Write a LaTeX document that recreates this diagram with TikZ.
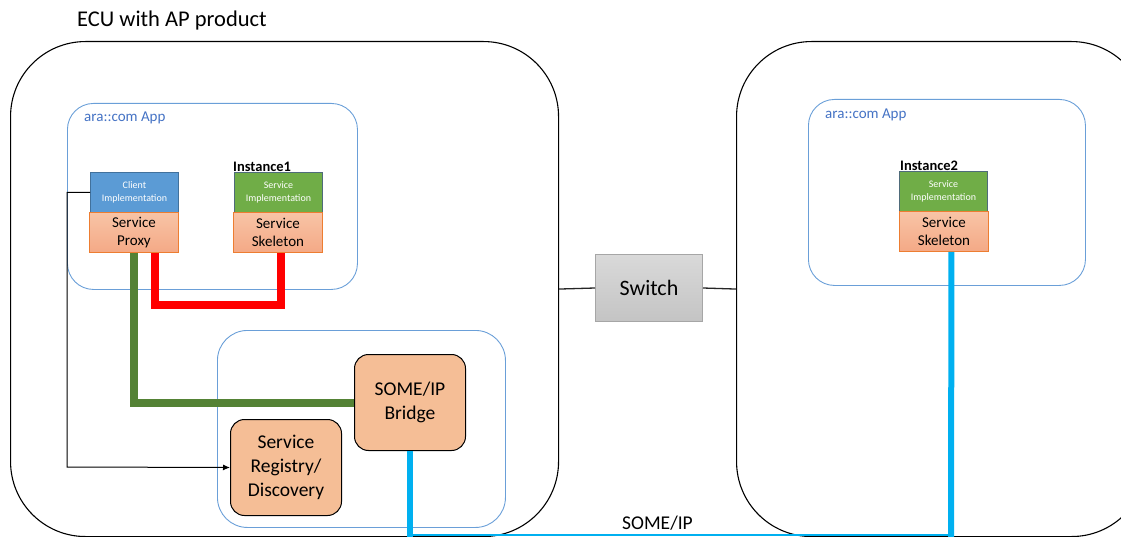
\documentclass[tikz,border=0pt]{standalone}
\usepackage{fontspec}
\setmainfont{Carlito}
\usetikzlibrary{calc,arrows.meta}
\definecolor{arablue}{HTML}{6A9FD8}
\definecolor{aratext}{HTML}{4472C4}
\definecolor{clientfill}{HTML}{5B9BD5}
\definecolor{clientdraw}{HTML}{41719C}
\definecolor{implfill}{HTML}{70AD47}
\definecolor{impldraw}{HTML}{4F6B7A}
\definecolor{salmontop}{HTML}{F8C4A6}
\definecolor{salmonbot}{HTML}{F4A986}
\definecolor{salmondraw}{HTML}{ED7D31}
\definecolor{bridgefill}{HTML}{F5BE96}
\definecolor{greenline}{HTML}{548235}
\definecolor{blueline}{HTML}{00B0F0}
\definecolor{swtop}{HTML}{D9D9D9}
\definecolor{swbot}{HTML}{C4C4C4}
\definecolor{swdraw}{HTML}{A6A6A6}
\tikzset{
  ecubox/.style={draw=black, line width=1.1pt, rounded corners=75pt, anchor=north west, inner sep=0pt},
  arabox/.style={draw=arablue, line width=0.9pt, rounded corners=26pt, anchor=north west, inner sep=0pt},
  aralabel/.style={text=aratext, font=\fontsize{15}{17}\selectfont, anchor=west, inner sep=0pt},
  toptile/.style={anchor=north west, inner sep=0pt, minimum width=88pt, minimum height=40pt, line width=0.9pt, text=white, align=center, font=\fontsize{10}{13}\selectfont},
  clienttile/.style={toptile, fill=clientfill, draw=clientdraw},
  impltile/.style={toptile, fill=implfill, draw=impldraw},
  skeltile/.style={anchor=north west, inner sep=0pt, minimum width=89pt, minimum height=40pt, draw=salmondraw, line width=0.9pt, top color=salmontop, bottom color=salmonbot, align=center, font=\fontsize{15}{18.5}\selectfont},
  compbox/.style={anchor=north west, inner sep=0pt, minimum width=111pt, minimum height=96pt, draw=black, line width=1pt, fill=bridgefill, rounded corners=14pt, align=center, font=\fontsize{19.5}{24}\selectfont},
  inslabel/.style={anchor=south west, inner sep=0pt, font=\bfseries\fontsize{14.5}{16}\selectfont},
  thickgreen/.style={draw=greenline, line width=8pt},
  thickred/.style={draw=red, line width=8pt},
  thickblue/.style={draw=blueline, line width=6pt},
  thinblue/.style={draw=blueline, line width=2pt},
  plainline/.style={draw=black!85, line width=1.3pt}
}
\begin{document}
\begin{tikzpicture}[x=1pt,y=-1pt]
\useasboundingbox (0,0) rectangle (1121,537);
\clip (0,0) rectangle (1121,537);

\node[anchor=west, inner sep=0pt, font=\fontsize{22.5}{26}\selectfont] (title) at (77,21) {ECU with AP product};

\node[ecubox, minimum width=548pt, minimum height=495pt] (ecu1) at (10,41) {};
\node[ecubox, minimum width=410pt, minimum height=495pt] (ecu2) at (736,41) {};

\node[arabox, minimum width=290pt, minimum height=186pt] (app1) at (67,103) {};
\node[aralabel] (app1lbl) at (84,118) {ara::com App};
\node[arabox, minimum width=277pt, minimum height=186pt] (app2) at (808,99) {};
\node[aralabel] (app2lbl) at (825,115) {ara::com App};
\node[arabox, rounded corners=30pt, minimum width=288pt, minimum height=197pt] (inner) at (217,330) {};

\node[clienttile] (client) at (90,172) {Client\\Implementation};
\node[skeltile] (proxy) at (89,212) {Service\\Proxy};

\node[inslabel] (ins1) at (233,172) {Instance1};
\node[impltile] (impl1) at (234,172) {Service\\Implementation};
\node[skeltile] (skel1) at (233,212) {Service\\Skeleton};

\node[inslabel] (ins2) at (900,171) {Instance2};
\node[impltile] (impl2) at (899,171) {Service\\Implementation};
\node[skeltile] (skel2) at (899,211) {Service\\Skeleton};

\node[anchor=north west, inner sep=0pt, minimum width=107pt, minimum height=67pt, draw=swdraw, line width=1pt, top color=swtop, bottom color=swbot, font=\fontsize{22}{26}\selectfont] (sw) at (595,254) {Switch};

\node[compbox] (bridge) at (354,354) {SOME/IP\\Bridge};
\node[compbox] (reg) at (230,419) {Service\\Registry/\\Discovery};

\node[anchor=west, inner sep=0pt, font=\fontsize{19.5}{22}\selectfont] (someip) at (622,523) {SOME/IP};

% switch links
\draw[plainline] (ecu1.east) -- (sw.west);
\draw[plainline] (sw.east) -- (ecu2.west);

% green
\draw[thickgreen] (proxy.south) |- (bridge.west);

% red
\coordinate (rc) at (155,305);
\draw[thickred] (proxy.south -| rc) -- (rc) -| ([xshift=3pt]skel1.south);

% blue
\coordinate (bc) at (410,535);
\coordinate (bc2) at (951,535);
\draw[thinblue] (bc) -- (bc2);
\draw[thickblue] (bridge.south) -- ([yshift=-2pt]bridge.south |- bc);
\draw[thickblue] ([xshift=7.5pt]skel2.south) -- ([yshift=-2pt]bc2);

% arrow
\coordinate (ak) at (67,467);
\draw[black, line width=1pt, -{Latex[length=7pt,width=6pt]}] (client.west) -| (ak) -- (reg.west);
\end{tikzpicture}
\end{document}
